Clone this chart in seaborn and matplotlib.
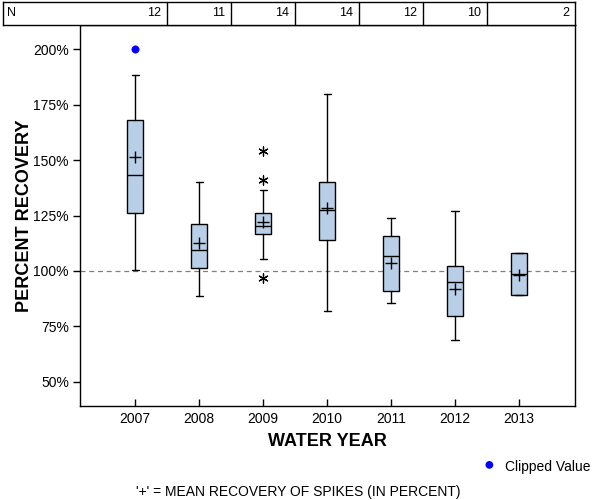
import numpy as np
import pandas as pd
import matplotlib
matplotlib.use('Agg')
import matplotlib.pyplot as plt
import seaborn as sns

# values (percent recovery)
years = ['2007', '2008', '2009', '2010', '2011', '2012', '2013']
n_counts = [12, 11, 14, 14, 12, 10, 2]
whislo = [100.5, 88.7, 105.4, 82.0, 85.5, 68.8, 89.2]
q1 = [126.2, 101.4, 116.7, 114.0, 91.0, 79.7, 89.2]
medians = [143.4, 109.5, 120.3, 127.5, 106.8, 95.0, 98.6]
q3 = [168.2, 121.2, 126.2, 140.2, 115.8, 102.3, 108.1]
whishi = [188.5, 140.2, 136.6, 180.0, 123.9, 127.1, 108.1]
means = [151.5, 112.6, 122.1, 128.5, 103.6, 91.9, 98.2]
outlier_years = ['2009', '2009', '2009']
outlier_vals = [154.2, 141.1, 96.8]
clipped_years = ['2007']
clipped_vals = [200.0]

sns.set_theme(style='ticks')
plt.rcParams['font.family'] = ['Liberation Sans', 'DejaVu Sans']
plt.rcParams.update({'text.color': 'black', 'axes.labelcolor': 'black',
                     'xtick.color': 'black', 'ytick.color': 'black'})

fig = plt.figure(figsize=(6, 5), dpi=100)
ax = fig.add_axes([80 / 600, 94 / 500, 495 / 600, 381 / 500])

pos = np.arange(len(years))
stats = []
for i, y in enumerate(years):
    stats.append({'label': y, 'whislo': whislo[i], 'q1': q1[i], 'med': medians[i],
                  'q3': q3[i], 'whishi': whishi[i], 'fliers': []})

ax.axhline(100, color='#808080', linestyle=(0, (4, 3)), linewidth=0.9, zorder=1)
ax.bxp(stats, positions=pos, widths=0.24, capwidths=0.11, patch_artist=True,
       showfliers=False,
       boxprops=dict(facecolor='#B9CFE7', edgecolor='black', linewidth=1),
       medianprops=dict(color='black', linewidth=1),
       whiskerprops=dict(color='black', linewidth=1),
       capprops=dict(color='black', linewidth=1))

year_idx = {y: i for i, y in enumerate(years)}
sns.scatterplot(x=pos, y=means, marker='+', s=70, color='black', linewidth=1,
                ax=ax, zorder=5)
sns.scatterplot(x=[year_idx[y] for y in outlier_years], y=outlier_vals,
                marker=(6, 2, 0), s=45, color='black', linewidth=0.9, ax=ax, zorder=5)
sns.scatterplot(x=[year_idx[y] for y in clipped_years], y=clipped_vals,
                marker='o', s=28, color='#0000FF', edgecolor='#0000FF', ax=ax, zorder=5)

ax.set_xlim(-0.86, 6.875)
ax.set_ylim(39, 211)
ax.set_xticks(pos)
ax.set_xticklabels(years, fontsize=10)
yt = [50, 75, 100, 125, 150, 175, 200]
ax.set_yticks(yt)
ax.set_yticklabels([f'{v}%' for v in yt], fontsize=10)
ax.tick_params(axis='y', direction='out', length=5, width=1, color='black', pad=3)
ax.tick_params(axis='x', direction='in', length=5, width=1, color='black', pad=4)
for s in ax.spines.values():
    s.set_color('black')
    s.set_linewidth(1)
ax.set_xlabel('WATER YEAR', fontsize=13, fontweight='bold')
ax.set_ylabel('PERCENT RECOVERY', fontsize=13, fontweight='bold')
ax.xaxis.set_label_coords(0.5, -0.072)
ax.yaxis.set_label_coords(-0.095, 0.5)

# N table across the top
tab = fig.add_axes([3 / 600, 475 / 500, 572 / 600, 23 / 500])
tab.set_xlim(-2.063, 6.875)
tab.set_ylim(0, 1)
tab.set_xticks([])
tab.set_yticks([])
for s in tab.spines.values():
    s.set_color('black')
    s.set_linewidth(1)
for i in range(len(years) - 1):
    tab.axvline(i + 0.5, color='black', linewidth=1)
tab.text(-2.0, 0.5, 'N', ha='left', va='center', fontsize=9)
for i, n in enumerate(n_counts):
    right = i + 0.5 if i < len(years) - 1 else 6.875
    tab.text(right - 0.09, 0.5, str(n), ha='right', va='center', fontsize=9)

# legend + footnote
fig.text(489 / 600, 1 - 465 / 500, '\u25CF', color='#0000FF', fontsize=13,
         ha='center', va='center')
fig.text(505 / 600, 1 - 467 / 500, 'Clipped Value', fontsize=10, ha='left', va='center')
fig.text(298 / 600, 1 - 492 / 500, "'+' = MEAN RECOVERY OF SPIKES (IN PERCENT)",
         fontsize=10, ha='center', va='center')

fig.savefig('out.png', dpi=100)
